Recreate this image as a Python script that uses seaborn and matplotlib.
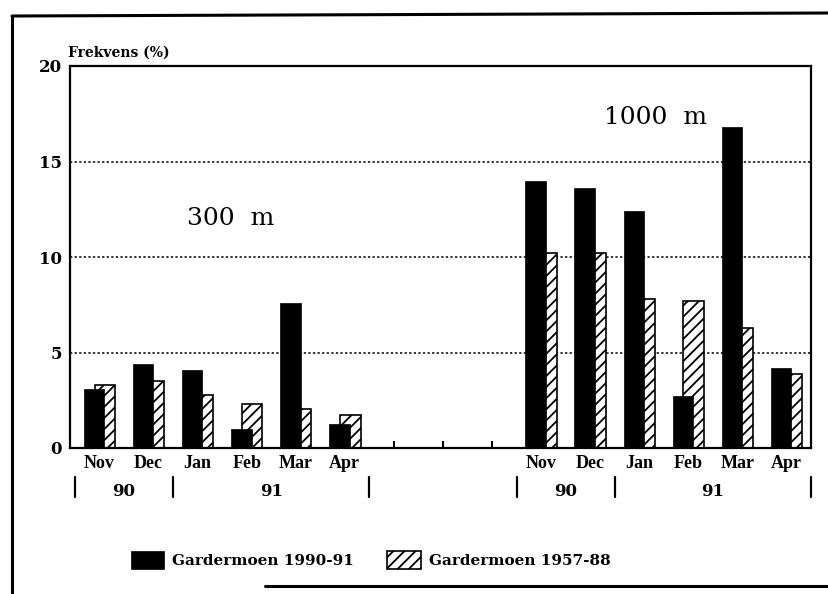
import numpy as np
import pandas as pd
import seaborn as sns
import matplotlib.pyplot as plt
from matplotlib.lines import Line2D

# monthly frequency (%) at 300 m and 1000 m, Nov 1990 - Apr 1991
months = ['Nov', 'Dec', 'Jan', 'Feb', 'Mar', 'Apr']
years = ['90', '90', '91', '91', '91', '91']
obs_300 = [3.1, 4.4, 4.1, 1.0, 7.6, 1.25]
clim_300 = [3.3, 3.5, 2.8, 2.3, 2.05, 1.75]
obs_1000 = [14.0, 13.6, 12.4, 2.7, 16.8, 4.2]
clim_1000 = [10.2, 10.2, 7.8, 7.7, 6.3, 3.9]
yticks = [0, 5, 10, 15, 20]
label_obs = 'Gardermoen 1990-91'
label_clim = 'Gardermoen 1957-88'

sns.set_style('ticks')
plt.rcParams['font.family'] = ['DejaVu Serif']
plt.rcParams['hatch.linewidth'] = 1.3
plt.rcParams['text.color'] = 'black'
plt.rcParams['xtick.color'] = 'black'
plt.rcParams['ytick.color'] = 'black'

# slots: 6 months, 3 empty slots, 6 months
pos = np.concatenate([np.arange(6), np.arange(6) + 9])
df = pd.DataFrame({
    'pos': pos,
    'obs': obs_300 + obs_1000,
    'clim': clim_300 + clim_1000,
})
df['x_obs'] = df['pos'] - 0.11
df['x_clim'] = df['pos'] + 0.11

fig = plt.figure(figsize=(8.29, 5.94), dpi=100)
ax = fig.add_axes([70 / 829, 1 - 448 / 594, (811 - 70) / 829, (448 - 66) / 594])

# hatched bars first, the black bars sit on top and hide their left half
sns.barplot(data=df, x='x_clim', y='clim', native_scale=True, width=0.42,
            color='white', edgecolor='black', hatch='///', linewidth=1.2,
            saturation=1, errorbar=None, label=label_clim, ax=ax)
sns.barplot(data=df, x='x_obs', y='obs', native_scale=True, width=0.42,
            color='black', edgecolor='black', linewidth=0.5,
            saturation=1, errorbar=None, label=label_obs, ax=ax)
if ax.get_legend() is not None:
    ax.get_legend().remove()

ax.set_xlim(-0.6, 14.5)
ax.set_ylim(0, 20)
ax.set_xlabel('')
ax.set_ylabel('')

# y axis
ax.set_yticks(yticks)
ax.set_yticklabels([str(v) for v in yticks], fontsize=12, fontweight='bold')
ax.tick_params(axis='y', length=0, pad=6, labelcolor='black')
ax.set_axisbelow(True)
ax.yaxis.grid(True, linestyle=(0, (1.5, 1.5)), color='black', linewidth=1.1)

# x axis: month names under each pair
ax.set_xticks(pos)
ax.set_xticklabels(months + months, fontsize=13, fontweight='bold',
                   family='Liberation Serif')
ax.tick_params(axis='x', length=0, pad=5, labelcolor='black')
ax.set_xticks([6, 7, 8], minor=True)
ax.tick_params(axis='x', which='minor', direction='in', length=5, width=1.5,
               color='black')

for side in ['left', 'right', 'top', 'bottom']:
    ax.spines[side].set_visible(True)
    ax.spines[side].set_linewidth(1.6)
    ax.spines[side].set_color('black')

# year row with separators
trans = ax.get_xaxis_transform()
for start in [0, 9]:
    seps = [start - 0.5, start + 1.5, start + 5.5]
    for s in seps:
        ax.plot([s, s], [-0.075, -0.128], color='black', lw=1.6,
                transform=trans, clip_on=False)
    grp = pos[start // 9 * 6:start // 9 * 6 + 6]
    for yr in sorted(set(years)):
        idx = [i for i, y in enumerate(years) if y == yr]
        xc = (grp[idx[0]] + grp[idx[-1]]) / 2
        ax.text(xc, -0.115, yr, transform=trans, ha='center', va='center',
                fontsize=12, fontweight='bold')

ax.text(1.78, 12.0, '300  m', fontsize=18, ha='left', va='center')
ax.text(10.29, 17.3, '1000  m', fontsize=18, ha='left', va='center')
ax.text(-0.64, 20.35, 'Frekvens (%)', fontsize=10, fontweight='bold',
        ha='left', va='bottom')

handles, labels = ax.get_legend_handles_labels()
order = [labels.index(label_obs), labels.index(label_clim)]
fig.legend([handles[i] for i in order], [labels[i] for i in order],
           loc='center', bbox_to_anchor=(0.447, 0.057), ncol=2,
           frameon=False, handlelength=2.2, handleheight=1.4,
           handletextpad=0.5, columnspacing=2.2,
           prop={'family': 'DejaVu Serif', 'size': 11, 'weight': 'bold'})

# frame around the whole figure (scanned page border)
fig.add_artist(Line2D([12 / 829, 12 / 829], [0, 1 - 16 / 594], color='black',
                      lw=2.2, transform=fig.transFigure))
fig.add_artist(Line2D([12 / 829, 1], [1 - 16 / 594, 1 - 13 / 594],
                      color='black', lw=2.2, transform=fig.transFigure))
fig.add_artist(Line2D([265 / 829, 1], [1 - 586 / 594, 1 - 586 / 594],
                      color='black', lw=2.2, transform=fig.transFigure))

fig.savefig('out.png', dpi=100)
